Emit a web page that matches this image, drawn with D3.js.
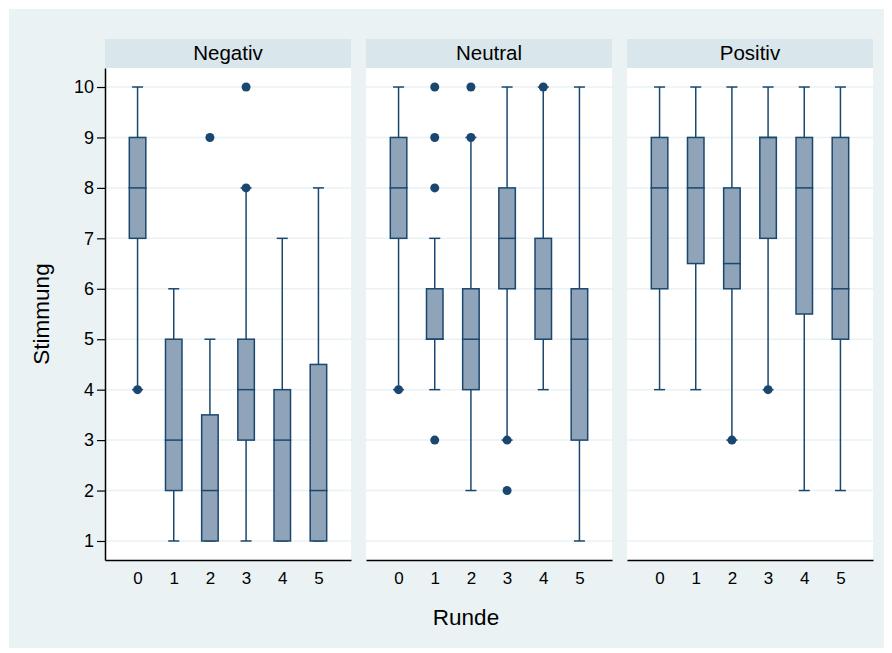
<!DOCTYPE html>
<html>
<head>
<meta charset="utf-8">
<script src="https://cdn.jsdelivr.net/npm/d3@7"></script>
<style>
  body { margin: 0; background: #ffffff; }
  text { font-family: "Liberation Sans", Arial, sans-serif; fill: #000; }
</style>
</head>
<body>
<div id="chart"></div>
<script>
// facets and rounds
const groups = ["Negativ", "Neutral", "Positiv"];
const rounds = [0, 1, 2, 3, 4, 5];
const yTicks = [1, 2, 3, 4, 5, 6, 7, 8, 9, 10];

// box statistics per group, one value per round
const lowWhisker = [
  [4, 1, 1, 1, 1, 1],
  [4, 4, 2, 3, 4, 1],
  [4, 4, 3, 4, 2, 2]
];
const q1 = [
  [7, 2, 1, 3, 1, 1],
  [7, 5, 4, 6, 5, 3],
  [6, 6.5, 6, 7, 5.5, 5]
];
const median = [
  [8, 3, 2, 4, 3, 2],
  [8, 5, 5, 7, 6, 5],
  [8, 8, 6.5, 9, 8, 6]
];
const q3 = [
  [9, 5, 3.5, 5, 4, 4.5],
  [9, 6, 6, 8, 7, 6],
  [9, 9, 8, 9, 9, 9]
];
const highWhisker = [
  [10, 6, 5, 8, 7, 8],
  [10, 7, 9, 10, 10, 10],
  [10, 10, 10, 10, 10, 10]
];
const outliers = [
  [[4], [], [9], [8, 10], [], []],
  [[4], [3, 8, 9, 10], [9, 10], [2, 3], [10], []],
  [[], [], [3], [4], [], []]
];

const width = 892, height = 653;
const navy = "#1a476f";
const boxFill = "#8fa4b8";

const svg = d3.select("#chart").append("svg")
    .attr("width", width)
    .attr("height", height);

// outer background
svg.append("rect")
    .attr("x", 9).attr("y", 9)
    .attr("width", 875).attr("height", 639)
    .attr("fill", "#eaf2f3");

const panel = { left: 105, top: 68, width: 246, height: 492, gap: 15, header: 29 };

const yScale = d3.scaleLinear()
    .domain([0.623, 10.377])
    .range([panel.top + panel.height, panel.top]);

const xScale = d3.scalePoint()
    .domain(rounds)
    .range([0, panel.width])
    .padding(0.9);

const boxW = 18, capW = 11;

groups.forEach((name, gi) => {
  const px = panel.left + gi * (panel.width + panel.gap);

  // header strip
  svg.append("rect")
      .attr("x", px).attr("y", panel.top - panel.header)
      .attr("width", panel.width).attr("height", panel.header)
      .attr("fill", "#d9e6eb");
  svg.append("text")
      .attr("x", px + panel.width / 2)
      .attr("y", panel.top - 8)
      .attr("text-anchor", "middle")
      .style("font-size", "20.5px")
      .text(name);

  // plot area
  svg.append("rect")
      .attr("x", px).attr("y", panel.top)
      .attr("width", panel.width).attr("height", panel.height)
      .attr("fill", "#ffffff");

  const g = svg.append("g")
      .attr("transform", `translate(${px},0)`);

  // gridlines
  g.selectAll(".grid")
    .data(yTicks)
    .join("line")
      .attr("x1", 0).attr("x2", panel.width)
      .attr("y1", d => yScale(d)).attr("y2", d => yScale(d))
      .attr("stroke", "#eaf2f3")
      .attr("stroke-width", 1.5);

  const data = rounds.map((r, i) => ({
    round: r,
    lo: lowWhisker[gi][i],
    q1: q1[gi][i],
    med: median[gi][i],
    q3: q3[gi][i],
    hi: highWhisker[gi][i],
    out: outliers[gi][i]
  }));

  const boxes = g.selectAll(".box")
    .data(data)
    .join("g")
      .attr("transform", d => `translate(${xScale(d.round)},0)`);

  // whiskers
  boxes.append("line")
      .attr("x1", 0).attr("x2", 0)
      .attr("y1", d => yScale(d.lo)).attr("y2", d => yScale(d.hi))
      .attr("stroke", navy).attr("stroke-width", 1.5);
  boxes.append("line")
      .attr("x1", -capW / 2).attr("x2", capW / 2)
      .attr("y1", d => yScale(d.lo)).attr("y2", d => yScale(d.lo))
      .attr("stroke", navy).attr("stroke-width", 1.5);
  boxes.append("line")
      .attr("x1", -capW / 2).attr("x2", capW / 2)
      .attr("y1", d => yScale(d.hi)).attr("y2", d => yScale(d.hi))
      .attr("stroke", navy).attr("stroke-width", 1.5);

  // box
  boxes.append("rect")
      .attr("x", -boxW / 2 + 0.75)
      .attr("width", boxW - 1.5)
      .attr("y", d => yScale(d.q3))
      .attr("height", d => yScale(d.q1) - yScale(d.q3))
      .attr("fill", boxFill)
      .attr("stroke", navy)
      .attr("stroke-width", 1.5);
  boxes.append("line")
      .attr("x1", -boxW / 2).attr("x2", boxW / 2)
      .attr("y1", d => yScale(d.med)).attr("y2", d => yScale(d.med))
      .attr("stroke", navy).attr("stroke-width", 1.5);

  // outside values
  boxes.selectAll(".dot")
    .data(d => d.out)
    .join("circle")
      .attr("cx", 0)
      .attr("cy", d => yScale(d))
      .attr("r", 4.5)
      .attr("fill", navy);

  // x axis
  const xAxis = g.append("g")
      .attr("transform", `translate(0,${panel.top + panel.height})`)
      .call(d3.axisBottom(xScale).tickSize(0).tickPadding(12));
  xAxis.select(".domain").attr("stroke", "#000").attr("stroke-width", 1.5);
  xAxis.selectAll("text").style("font-size", "17px");

  if (gi === 0) {
    const yAxis = g.append("g")
        .call(d3.axisLeft(yScale).tickValues(yTicks).tickSize(8).tickPadding(3)
          .tickSizeOuter(0));
    yAxis.select(".domain").attr("stroke", "#000").attr("stroke-width", 1.5);
    yAxis.selectAll(".tick line").attr("stroke", "#000").attr("stroke-width", 1.2);
    yAxis.selectAll("text").style("font-size", "18px");
  }
});

// axis titles
svg.append("text")
    .attr("x", 466)
    .attr("y", 625)
    .attr("text-anchor", "middle")
    .style("font-size", "22.5px")
    .text("Runde");

svg.append("text")
    .attr("transform", `translate(49,${yScale(5.5)}) rotate(-90)`)
    .attr("text-anchor", "middle")
    .style("font-size", "22.5px")
    .text("Stimmung");
</script>
</body>
</html>
